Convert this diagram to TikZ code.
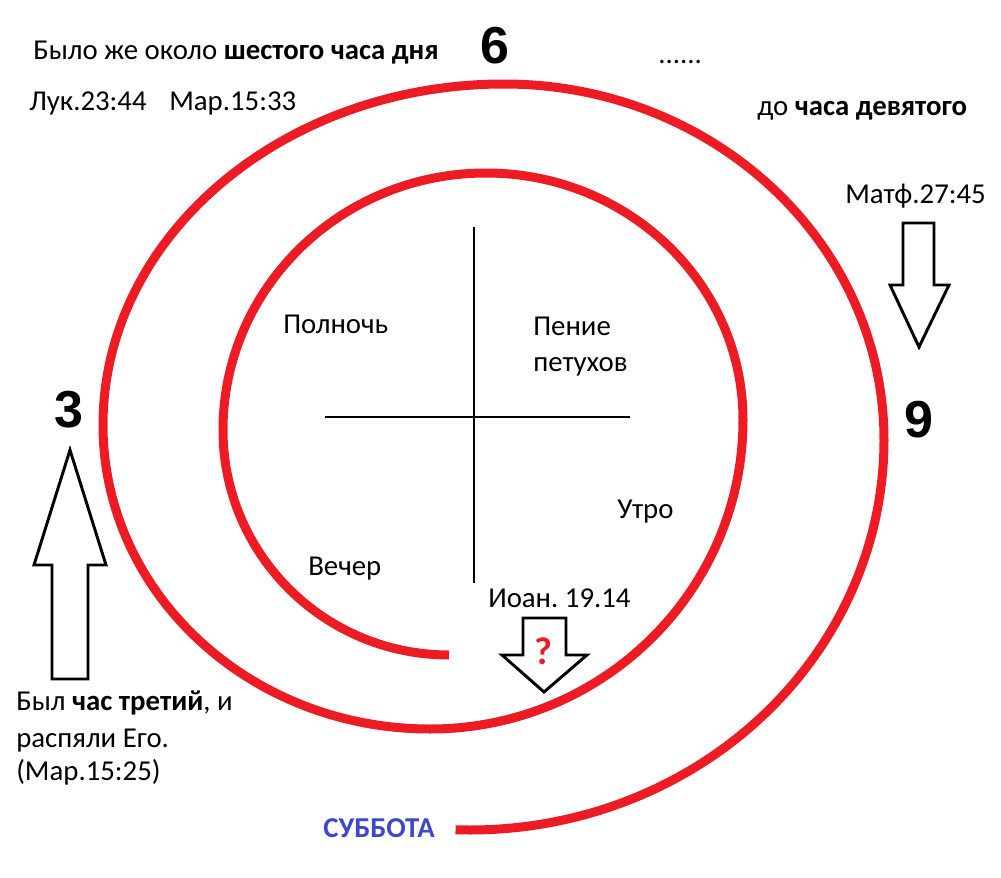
\documentclass[tikz,border=0pt]{standalone}
\usepackage{fontspec}
\setmainfont{Carlito}
\newfontfamily\hourfont{Liberation Sans}
\definecolor{spiralred}{RGB}{237,28,36}
\definecolor{sabbathblue}{RGB}{63,72,204}
\frenchspacing

\begin{document}
\begin{tikzpicture}[x=0.75pt,y=-0.75pt,
    txt/.style={font=\fontsize{21.6}{26}\selectfont, inner sep=0pt, anchor=base west},
    hour/.style={font=\hourfont\bfseries\fontsize{39}{39}\selectfont, inner sep=0pt, anchor=base},
    spiral/.style={draw=spiralred, line width=6.75pt},
    blockarrow/.style={draw=black, line width=2.2pt, fill=white, line join=miter}]
          \useasboundingbox (0,0) rectangle (1001,878);

          % spiral
          \draw[spiral] (449,655)
            arc[start angle=90, end angle=180, x radius=226, y radius=225]
            arc[start angle=180, end angle=270, x radius=263, y radius=257]
            arc[start angle=270, end angle=360, x radius=257, y radius=247]
            arc[start angle=0, end angle=90, x radius=313, y radius=309]
            arc[start angle=90, end angle=180, x radius=327, y radius=304]
            arc[start angle=180, end angle=270, x radius=401, y radius=341]
            arc[start angle=270, end angle=360, x radius=380, y radius=356]
            arc[start angle=0, end angle=92, x radius=414, y radius=390];

          % cross
          \coordinate (ctop) at (474,227);
          \coordinate (cbot) at (474,583);
          \coordinate (cleft) at (325,417);
          \coordinate (cright) at (630,417);
          \draw[line width=2.2pt] (ctop) -- (cbot);
          \draw[line width=2.2pt] (cleft) -- (cright);

          % hours
          \node (six) at (495,63) [hour] {6};
          \node (three) at (69,427) [hour] {3};
          \node (nine) at (919,437) [hour] {9};

          % top texts
          \node (sixth) at (33,60) [txt] {Было же около \textbf{шестого часа дня}};
          \node (luke) at (29,110) [txt] {Лук.23:44\hspace{17pt}Мар.15:33};
          \node (dots) at (658,63) [txt] {......};
          \node (ninth) at (757,115) [txt] {до \textbf{часа девятого}};
          \node (matt) at (845,203) [txt] {Матф.27:45};

          % quarters
          \node (midnight) at (283,333) [txt] {Полночь};
          \node (cock1) at (533,335) [txt] {Пение};
          \node (cock2) at (533,371) [txt] {петухов};
          \node (morning) at (617,518) [txt] {Утро};
          \node (evening) at (308,575) [txt] {Вечер};
          \node (john) at (488,607) [txt] {Иоан. 19.14};

          % third hour
          \node (third1) at (16,710) [txt] {Был \textbf{час третий}, и};
          \node (third2) at (16,747) [txt] {распяли Его.};
          \node (third3) at (16,780) [txt] {(Мар.15:25)};

          \node (sabbath) at (323,837) [txt, text=sabbathblue] {\textbf{СУББОТА}};

          % arrows
          \draw[blockarrow] (70,450) -- (106,565) -- (88,565) -- (88,679)
            -- (52,679) -- (52,565) -- (34,565) -- cycle;
          \draw[blockarrow] (919,347) -- (949,285) -- (934,285) -- (934,223)
            -- (903,223) -- (903,285) -- (890,285) -- cycle;
          \draw[blockarrow] (544,692) -- (587,655) -- (566,655) -- (566,618)
            -- (523,618) -- (523,655) -- (502,655) -- cycle;
          \node (quest) at (543,664) [font=\bfseries\fontsize{29}{29}\selectfont, text=spiralred, inner sep=0pt, anchor=base] {?};

        \end{tikzpicture}
\end{document}
